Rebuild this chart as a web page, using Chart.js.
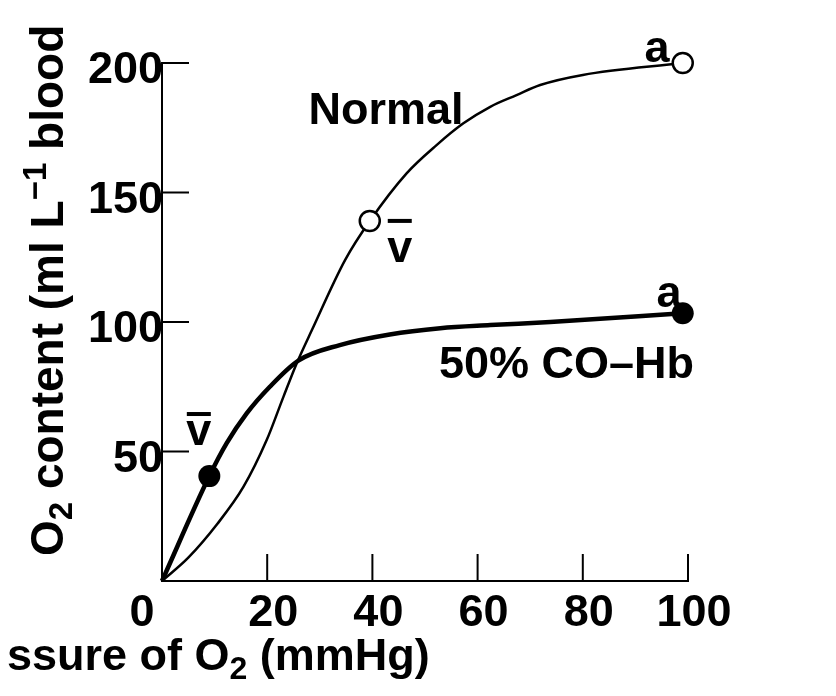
<!DOCTYPE html>
<html>
<head>
  <script src="https://cdn.jsdelivr.net/npm/chart.js"></script>
  <style>
    body { margin: 0; background: #fff; }
    #wrap { width: 836px; height: 696px; }
  </style>
</head>
<body>
  <div id="wrap"><canvas id="curve" width="836" height="696"></canvas></div>

  <script>
    // O2 content curves
    const normalPO2 = [0, 5, 10.5, 15.5, 19.9, 23.1, 25.6, 28.5, 34.8, 39.5, 46.5, 52.2, 57.3, 62.4, 67.4, 71.9, 80, 99];
    const normalO2  = [0, 9, 22, 36.4, 54.4, 71.2, 84, 96.9, 123.9, 139, 157.4, 168.3, 176.7, 183.1, 187.6, 191.5, 195.4, 200];

    const coPO2 = [0, 9, 12.3, 16.1, 20.5, 26, 33.8, 43.3, 52.9, 62.4, 73.8, 99];
    const coO2  = [0, 40.5, 53.2, 64.7, 75, 85.2, 91.1, 95.2, 97.6, 98.8, 100, 103.4];

    // venous (v) and arterial (a) points
    const normalMarkPO2 = [39.5, 99];
    const normalMarkO2  = [139, 200];
    const coMarkPO2 = [9, 99];
    const coMarkO2  = [40.5, 103.4];

    const xTicks = [0, 20, 40, 60, 80, 100];
    const yTicks = [50, 100, 150, 200];

    const pts = (xs, ys) => xs.map((x, i) => ({ x: x, y: ys[i] }));

    const FAMILY = '"Liberation Sans", Arial, sans-serif';
    const FONT = 'bold 45px ' + FAMILY;
    const SUB = 'bold 32px ' + FAMILY;

    // draws text pieces one after another, sub/superscripts smaller
    function drawRich(ctx, parts, x, y, font, sub) {
      let cx = x;
      parts.forEach(p => {
        ctx.font = p.s ? sub : font;
        const dy = p.s === 'sub' ? 9 : (p.s === 'sup' ? -17 : 0);
        ctx.fillText(p.t, cx, y + dy);
        cx += ctx.measureText(p.t).width;
      });
    }

    const labels = [
      { t: 'Normal', x: 42.6, y: 176.4 },
      { t: '50% CO\u2013Hb', x: 76.9, y: 78.4 },
      { t: 'a', x: 94.1, y: 200.4 },
      { t: 'a', x: 96.4, y: 105.8 },
      { t: 'v', x: 45.2, y: 123.2, bar: 41 },
      { t: 'v', x: 7.0, y: 52.5, bar: 31 }
    ];

    const decor = {
      id: 'decor',
      afterDraw(chart) {
        const ctx = chart.ctx;
        const xs = chart.scales.x, ys = chart.scales.y;
        const x0 = xs.getPixelForValue(0), y0 = ys.getPixelForValue(0);
        ctx.save();
        ctx.fillStyle = '#000';
        ctx.strokeStyle = '#000';
        ctx.lineWidth = 2;

        // inward ticks
        ctx.beginPath();
        xTicks.slice(1).forEach(v => {
          const px = xs.getPixelForValue(v);
          ctx.moveTo(px, y0); ctx.lineTo(px, y0 - 27);
        });
        yTicks.forEach(v => {
          const py = ys.getPixelForValue(v);
          ctx.moveTo(x0, py); ctx.lineTo(x0 + 27, py);
        });
        ctx.stroke();

        ctx.font = FONT;
        ctx.textBaseline = 'alphabetic';
        ctx.textAlign = 'center';
        xTicks.forEach(v => {
          const px = xs.getPixelForValue(v) + (v === 0 ? -20 : 6);
          ctx.fillText(String(v), px, y0 + 45);
        });
        ctx.textAlign = 'right';
        yTicks.forEach(v => {
          ctx.fillText(String(v), x0 + 1, ys.getPixelForValue(v) + 20);
        });

        // annotations
        ctx.textAlign = 'center';
        labels.forEach(l => {
          const px = xs.getPixelForValue(l.x), py = ys.getPixelForValue(l.y);
          ctx.fillText(l.t, px, py);
          if (l.bar) {
            ctx.fillRect(px - 12, py - l.bar - 2, 24, 4);
          }
        });

        // axis titles
        ctx.textAlign = 'left';
        drawRich(ctx, [{ t: 'ssure of O' }, { t: '2', s: 'sub' }, { t: ' (mmHg)' }], 7, 670, FONT, SUB);

        ctx.translate(63, 556);
        ctx.rotate(-Math.PI / 2);
        drawRich(ctx, [{ t: 'O' }, { t: '2', s: 'sub' }, { t: ' content (ml L' }, { t: '\u22121', s: 'sup' }, { t: ' blood' }],
          0, 0, 'bold 46px ' + FAMILY, 'bold 33px ' + FAMILY);
        ctx.restore();
      }
    };

    new Chart(document.getElementById('curve'), {
      type: 'scatter',
      data: {
        datasets: [
          { data: pts(normalMarkPO2, normalMarkO2), pointRadius: 10, pointBackgroundColor: '#fff',
            pointBorderColor: '#000', pointBorderWidth: 2.5, showLine: false, clip: false, order: 0 },
          { data: pts(coMarkPO2, coMarkO2), pointRadius: 11, pointBackgroundColor: '#000',
            pointBorderColor: '#000', pointBorderWidth: 0, showLine: false, clip: false, order: 0 },
          { data: pts(normalPO2, normalO2), showLine: true, borderColor: '#000', borderWidth: 2.5,
            pointRadius: 0, cubicInterpolationMode: 'monotone', clip: false, order: 1 },
          { data: pts(coPO2, coO2), showLine: true, borderColor: '#000', borderWidth: 4.5,
            pointRadius: 0, cubicInterpolationMode: 'monotone', clip: false, order: 1 }
        ]
      },
      options: {
        responsive: false,
        animation: false,
        layout: { padding: { left: 162, right: 148, top: 63, bottom: 115 } },
        plugins: { legend: { display: false }, tooltip: { enabled: false } },
        scales: {
          x: {
            type: 'linear', min: 0, max: 100,
            ticks: { display: false, stepSize: 20 },
            grid: { display: false, drawTicks: false },
            border: { display: true, color: '#000', width: 2 }
          },
          y: {
            min: 0, max: 200,
            ticks: { display: false, stepSize: 50 },
            grid: { display: false, drawTicks: false },
            border: { display: true, color: '#000', width: 2 }
          }
        }
      },
      plugins: [decor]
    });
  </script>
</body>
</html>
